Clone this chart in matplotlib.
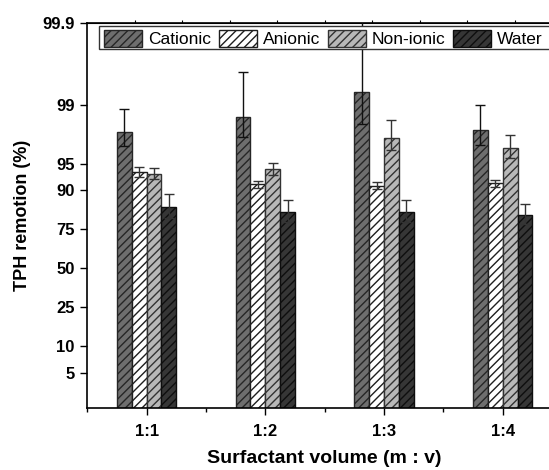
import numpy as np
import matplotlib
matplotlib.use('Agg')
import matplotlib.pyplot as plt
from matplotlib.patches import Rectangle

# TPH removal (%) per surfactant type and volume ratio, with std. dev.
ratios = ['1:1', '1:2', '1:3', '1:4']
series = ['Cationic', 'Anionic', 'Non-ionic', 'Water']
cationic = [97.9, 98.6, 99.3, 98.0]
cationic_err = [1.0, 1.0, 1.0, 1.0]
anionic = [93.7, 91.4, 91.0, 91.6]
anionic_err = [0.9, 0.8, 0.8, 0.8]
nonionic = [93.4, 94.2, 97.5, 96.7]
nonionic_err = [0.95, 0.9, 1.0, 1.0]
water = [84.8, 82.9, 82.9, 81.8]
water_err = [4.3, 4.2, 4.2, 4.1]
yticks = [5, 10, 25, 50, 75, 90, 95, 99, 99.9]

plt.rcParams['font.family'] = ['Liberation Sans', 'DejaVu Sans']
plt.rcParams['hatch.linewidth'] = 1.0


# probability (logit) axis in percent
def fwd(p):
    p = np.clip(np.asarray(p, dtype=float), 1e-6, 100 - 1e-6)
    return np.log(p / (100 - p))


def inv(z):
    return 100 / (1 + np.exp(-np.asarray(z, dtype=float)))


fig = plt.figure(figsize=(5.49, 4.70), dpi=100)
ax = fig.add_axes([0.159, 0.1313, 0.8647, 0.8197])
ax.set_yscale('function', functions=(fwd, inv))

values = [cationic, anionic, nonionic, water]
errors = [cationic_err, anionic_err, nonionic_err, water_err]
faces = ['#6e6e6e', '#ffffff', '#b8b8b8', '#363636']
hatchc = ['#262626', '#1e1e1e', '#333333', '#0e0e0e']
errc = ['#111111', '#333333', '#333333', '#333333']

x = np.arange(1, len(ratios) + 1)
w = 0.125
for k in range(4):
    pos = x + (k - 1.5) * w
    ax.bar(pos, values[k], w, bottom=0.0001, color=faces[k], edgecolor=hatchc[k],
           hatch='////', linewidth=1.0, label=series[k], zorder=2)
    ax.errorbar(pos, values[k], yerr=errors[k], fmt='none', ecolor=errc[k],
                elinewidth=1.0, capsize=3.5, capthick=1.0, zorder=3)

ax.set_xlim(0.5, 4.5)
ax.set_ylim(1.9, 99.9)
ax.set_yticks(yticks)
ax.set_yticklabels(['5', '10', '25', '50', '75', '90', '95', '99', '99.9'])
ax.yaxis.set_minor_locator(plt.NullLocator())
ax.set_xticks(x)
ax.set_xticklabels(ratios)
ax.set_xticks(np.arange(0.5, 4.6, 1.0), minor=True)

ax.tick_params(axis='y', which='major', direction='out', length=5, width=1,
               labelsize=12, pad=4)
ax.tick_params(axis='x', which='major', direction='out', length=5, width=1,
               labelsize=12, pad=6)
ax.tick_params(axis='x', which='minor', direction='out', length=3, width=1)
for lab in ax.get_xticklabels() + ax.get_yticklabels():
    lab.set_fontweight('bold')
for s in ax.spines.values():
    s.set_linewidth(1.2)
ax.spines['right'].set_visible(False)

# small ticks along the top edge
top = ax.secondary_xaxis('top')
top.set_xticks(np.arange(0.9, 4.6, 0.4))
top.set_xticklabels([])
top.tick_params(direction='out', length=2, width=0.8)

ax.set_xlabel('Surfactant volume (m : v)', fontsize=14, fontweight='bold', labelpad=8)
ax.set_ylabel('TPH remotion (%)', fontsize=13, fontweight='bold', labelpad=8)

# legend box runs on past the right edge of the figure
frame = Rectangle((0.0253, 0.9315), 1.1, 0.061, transform=ax.transAxes,
                  facecolor='white', edgecolor='#333333', linewidth=1.0,
                  zorder=4, clip_on=False)
ax.add_patch(frame)
leg = ax.legend(ncol=4, loc='upper left', bbox_to_anchor=(0.028, 0.992),
                fontsize=12.5, frameon=False, handlelength=2.2,
                handleheight=1.2, handletextpad=0.35, columnspacing=0.42,
                borderpad=0.2, borderaxespad=0.0)
leg.set_zorder(5)

fig.savefig('out.png', dpi=100)
